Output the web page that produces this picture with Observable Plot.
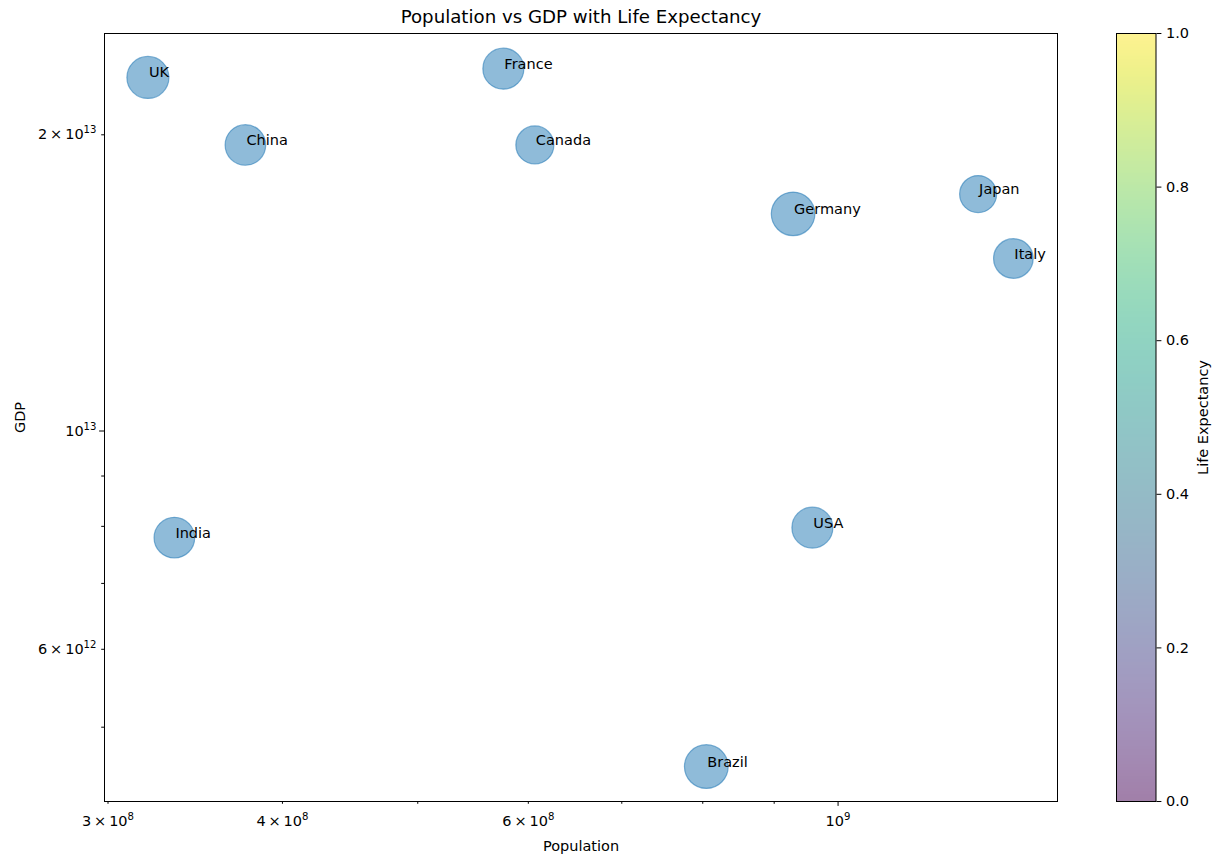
<!DOCTYPE html>
<html><head><meta charset="utf-8">
<script src="https://cdn.jsdelivr.net/npm/d3@7"></script>
<script src="https://cdn.jsdelivr.net/npm/@observablehq/plot@0.6"></script>
<style>
body{margin:0;background:#fff;}
#wrap{position:relative;width:1214px;height:854px;font-family:"DejaVu Sans",sans-serif;}
#wrap svg{position:absolute;left:0;top:0;}
</style></head><body><div id="wrap"></div>
<script>
// ---- data ----
const countries = ["UK", "China", "France", "Canada", "Germany", "Japan", "Italy", "India", "USA", "Brazil"];
const population = [3.204e8, 3.763e8, 5.758e8, 6.065e8, 9.285e8, 1.2598e9, 1.3352e9, 3.347e8, 9.585e8, 8.047e8];
const gdp = [2.2873e13, 1.953e13, 2.3349e13, 1.953e13, 1.6622e13, 1.741e13, 1.4973e13, 7.791e12, 7.976e12, 4.56e12];
const lifeExpectancy = [70.6, 65.9, 67.2, 57.8, 76.0, 54.8, 62.7, 66.0, 67.0, 76.5];

const xTicks = [3e8, 4e8, 6e8, 1e9];
const xTickLabels = ["3\u2009×\u200910^8", "4\u2009×\u200910^8", "6\u2009×\u200910^8", "10^9"];
const xMinorTicks = [3e8, 4e8, 5e8, 6e8, 7e8, 8e8, 9e8];
const xMajorTicks = [1e9];
const yTicks = [6e12, 1e13, 2e13];
const yTickLabels = ["6\u2009×\u200910^12", "10^13", "2\u2009×\u200910^13"];
const yMinorTicks = [5e12, 6e12, 7e12, 8e12, 9e12, 2e13];
const yMajorTicks = [1e13];
const cbTicks = [0, 0.2, 0.4, 0.6, 0.8, 1.0];
const cbTickLabels = ["0.0", "0.2", "0.4", "0.6", "0.8", "1.0"];

const titleText = "Population vs GDP with Life Expectancy";
const xLabel = "Population";
const yLabel = "GDP";
const cbLabel = "Life Expectancy";

const data = countries.map((c, i) => ({country: c, population: population[i], gdp: gdp[i], life: lifeExpectancy[i]}));

const W = 1214, H = 854;
const L = 104, R = 1057, T = 33, B = 801;
const font = {fontFamily: "DejaVu Sans, sans-serif", fontSize: "14.5px", color: "black", overflow: "visible"};

const main = Plot.plot({
  width: W, height: H,
  marginLeft: L, marginRight: W - R, marginTop: T, marginBottom: H - B,
  style: {...font, background: "white"},
  x: {type: "log", domain: [2.9827e8, 1.436e9], label: null},
  y: {type: "log", domain: [4.202e12, 2.5351e13], label: null},
  r: {type: "sqrt", domain: [0, 100], range: [0, 25]},
  marks: [
    Plot.dot(data, {x: "population", y: "gdp", r: "life", fill: "#1f77b4", fillOpacity: 0.5, stroke: "#1f77b4", strokeOpacity: 0.55, strokeWidth: 1.2}),
    Plot.text(data, {x: "population", y: "gdp", text: "country", textAnchor: "start", lineAnchor: "bottom", dx: 1, fill: "black", fontSize: 14.5}),
    Plot.axisX(xTicks, {tickSize: 0, tickPadding: 14, label: null, tickFormat: d => xTickLabels[xTicks.indexOf(d)]}),
    Plot.axisX(xMinorTicks, {tickSize: 2.8, label: null, tickFormat: () => ""}),
    Plot.axisX(xMajorTicks, {tickSize: 4.9, label: null, tickFormat: () => ""}),
    Plot.axisY(yTicks, {tickSize: 0, tickPadding: 8, label: null, tickFormat: d => yTickLabels[yTicks.indexOf(d)]}),
    Plot.axisY(yMinorTicks, {tickSize: 2.8, label: null, tickFormat: () => ""}),
    Plot.axisY(yMajorTicks, {tickSize: 4.9, label: null, tickFormat: () => ""}),
    Plot.frame({stroke: "black", strokeWidth: 1}),
    Plot.text([titleText], {frameAnchor: "top", lineAnchor: "middle", dy: -16, fontSize: 18.2, fill: "black"}),
    Plot.text([xLabel], {frameAnchor: "bottom", lineAnchor: "middle", dy: 45, fill: "black"}),
    Plot.text([yLabel], {frameAnchor: "left", lineAnchor: "middle", dx: -84, rotate: -90, textAnchor: "middle", fill: "black"})
  ]
});

const CL = 1116, CR = 1155.5;
const cbar = Plot.plot({
  width: W, height: H,
  marginLeft: CL, marginRight: W - CR, marginTop: T, marginBottom: H - B,
  style: {...font, background: "transparent"},
  x: {domain: [0, 1], axis: null},
  y: {domain: [0, 1], label: null},
  color: {type: "linear", scheme: "viridis", domain: [0, 1]},
  marks: [
    Plot.raster({x1: 0, x2: 1, y1: 0, y2: 1, width: 1, height: 256, fill: (x, y) => y, fillOpacity: 0.5}),
    Plot.axisY(cbTicks, {anchor: "right", tickSize: 4.9, tickPadding: 5, label: null, tickFormat: d => cbTickLabels[cbTicks.indexOf(d)]}),
    Plot.frame({stroke: "black", strokeWidth: 1}),
    Plot.text([cbLabel], {frameAnchor: "right", lineAnchor: "middle", dx: 47.5, rotate: -90, textAnchor: "middle", fill: "black"})
  ]
});

// render "a^b" tick labels with a real superscript
function superscriptify(svg) {
  const NS = "http://www.w3.org/2000/svg";
  svg.querySelectorAll("text").forEach(t => {
    const s = t.textContent;
    if (s.includes("^")) {
      const [base, exp] = s.split("^");
      t.textContent = "";
      const a = document.createElementNS(NS, "tspan");
      a.textContent = base;
      const b = document.createElementNS(NS, "tspan");
      b.setAttribute("font-size", "70%");
      b.setAttribute("dy", "-0.6em");
      b.textContent = exp;
      t.append(a, b);
    }
  });
}
superscriptify(main);

const wrap = document.getElementById("wrap");
wrap.appendChild(main);
wrap.appendChild(cbar);
</script>
</body></html>
